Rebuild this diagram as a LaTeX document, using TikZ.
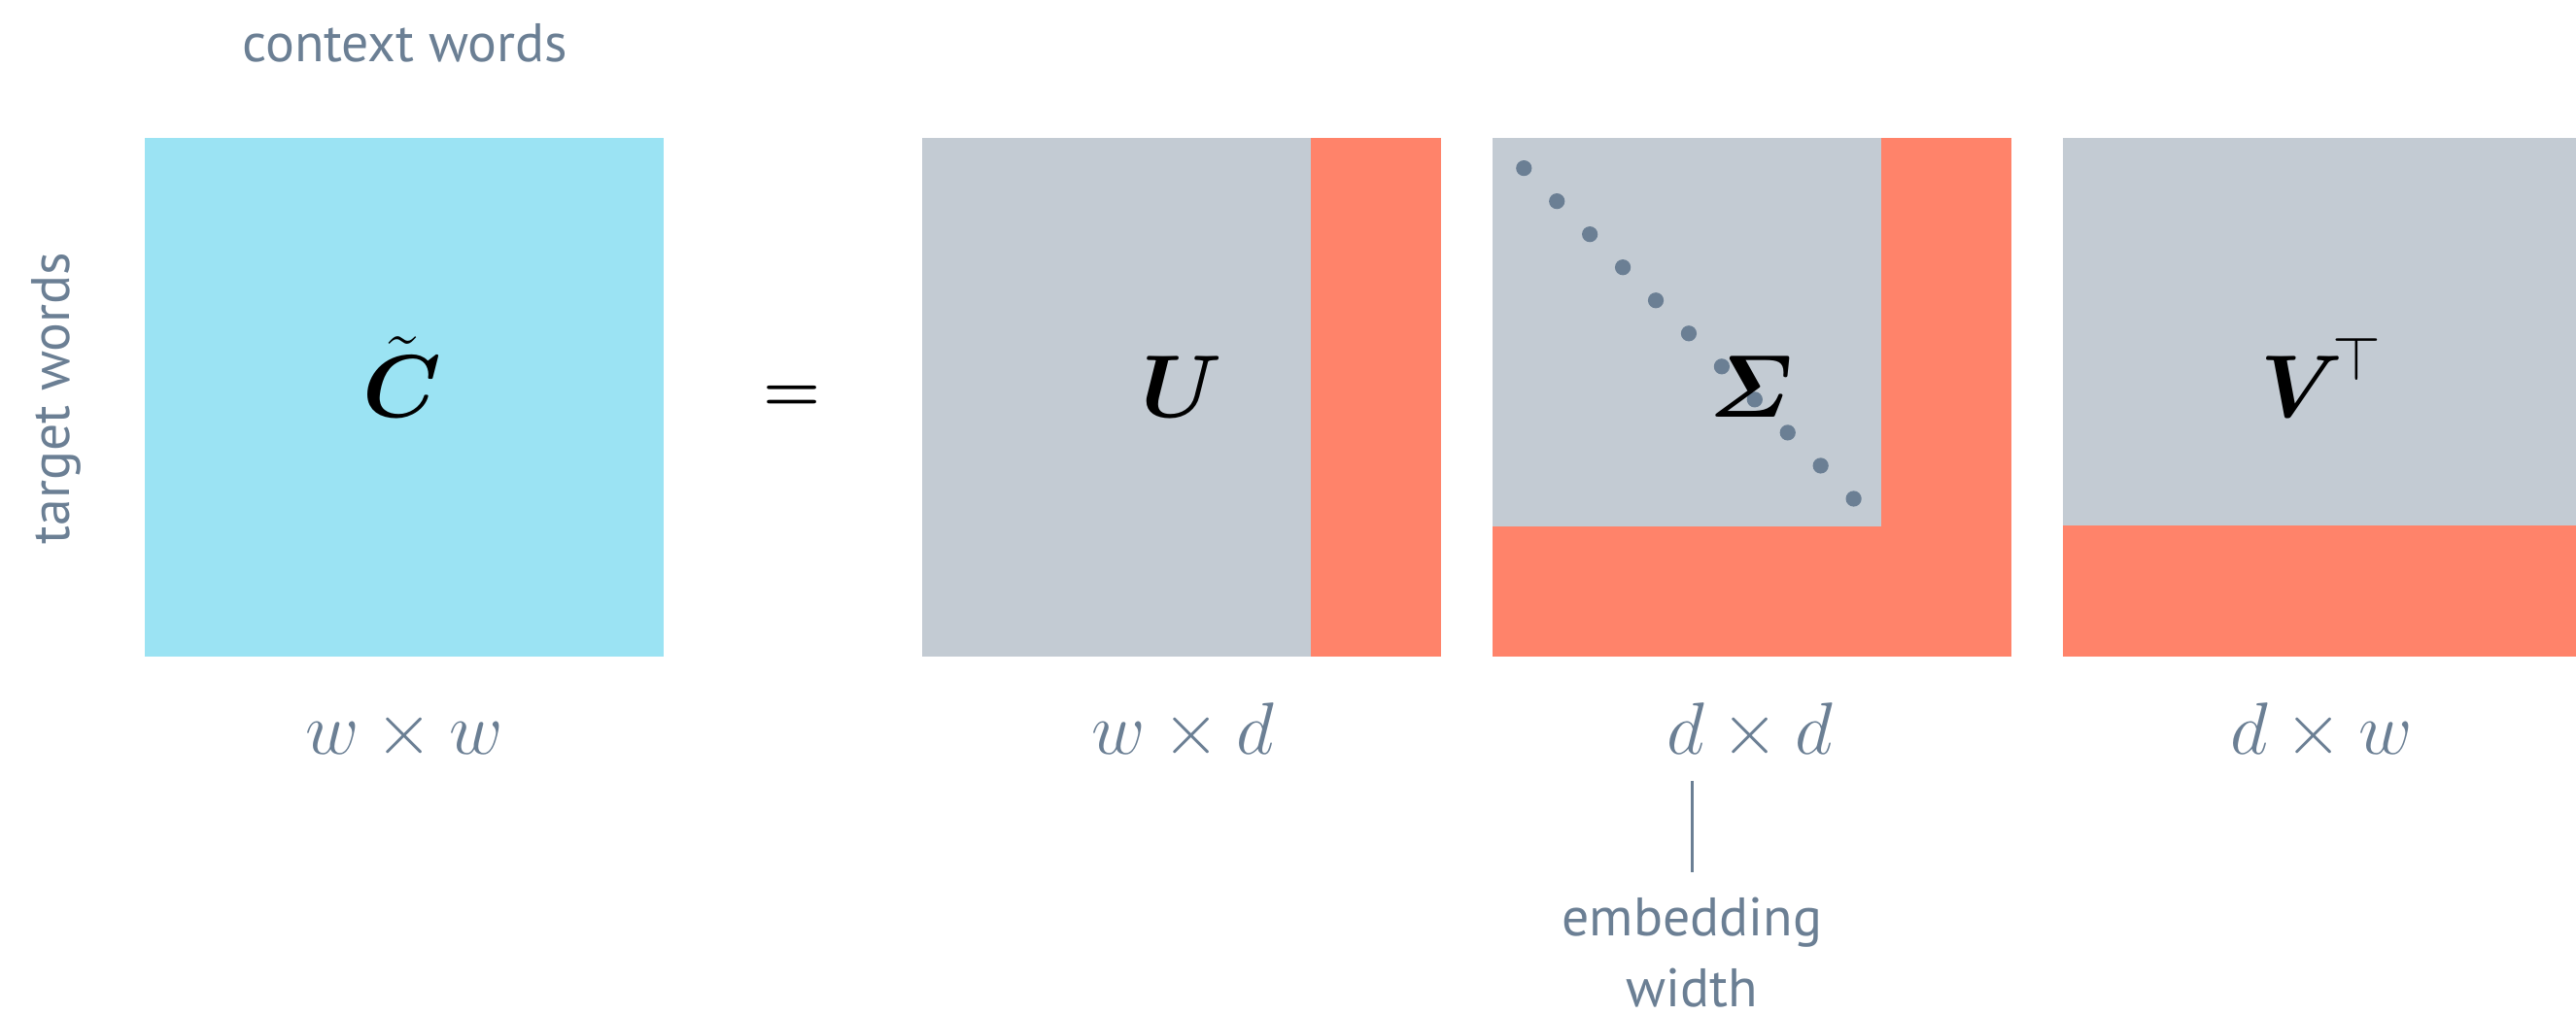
\RequirePackage{fix-cm}
\documentclass[tikz,border=0pt]{standalone}
\usepackage{amsmath}
\usepackage{fontspec}
\newfontfamily\labfont{PT Sans}
\usetikzlibrary{calc}
\definecolor{cyanm}{HTML}{9BE3F3}
\definecolor{graym}{HTML}{C3CBD3}
\definecolor{redm}{HTML}{FF836A}
\definecolor{slate}{HTML}{6B7F94}
\tikzset{
  mat/.style={rectangle, inner sep=0pt, outer sep=0pt, minimum width=315.6bp, minimum height=315.6bp, fill=graym},
  sym/.style={inner sep=0pt, anchor=base, text=black, font=\fontsize{54bp}{60bp}\selectfont},
  dim/.style={inner sep=0pt, anchor=base, text=slate, font=\fontsize{45bp}{50bp}\selectfont},
  word/.style={inner sep=0pt, anchor=base, text=slate, font=\labfont\fontsize{33bp}{40bp}\selectfont},
  conn/.style={draw=slate, line width=2bp},
}
\begin{document}
\begin{tikzpicture}[x=1bp,y=-1bp]
\useasboundingbox (0,0) rectangle (1568,618);
% matrices
\node[mat, fill=cyanm] (C) at (246,241.9) {};
\node[mat] (U) at (719.2,241.9) {};
\node[mat] (S) at (1066.5,241.9) {};
\node[mat] (V) at (1413.5,241.9) {};
% truncated (red) parts
\fill[redm] ($(U.north east)+(-79.2,0)$) rectangle (U.south east);
\fill[redm] ($(S.north east)+(-79.2,0)$) rectangle (S.south east);
\fill[redm] (S.south west) rectangle ($(S.south east)+(0,-79)$);
\fill[redm] (V.south west) rectangle ($(V.south east)+(0,-79.6)$);
% diagonal dots
\foreach \i in {0,...,10}
  \fill[slate] (927.6+20.07*\i, 102.4+20.13*\i) circle[radius=4.8bp];
% symbols
\node[sym] (Cl) at (245,254) {$\tilde{\boldsymbol{C}}$};
\node[sym] (Ul) at (719.5,254) {$\boldsymbol{U}$};
\node[sym] (Sl) at (1066,254) {$\boldsymbol{\varSigma}$};
\node[sym] (Vl) at (1413,254) {$\boldsymbol{V}^{\!\top}$};
\node[sym, font=\fontsize{40bp}{44bp}\selectfont] (eq) at (482,250.5) {$\boldsymbol{=}$};
% dimension labels
\node[dim] (dC) at (246,459.5) {$w\times w$};
\node[dim] (dU) at (720,459.5) {$w\times d$};
\node[dim] (dS) at (1065,459.5) {$d\times d$};
\node[dim] (dV) at (1413,459.5) {$d\times w$};
% words
\node[word] (ctx) at (246.5,37.5) {context words};
\node[word, rotate=90] (tgt) at (42.5,242.5) {target words};
\node[word] (emb1) at (1030,569.7) {embedding};
\node[word, text depth=0pt] (emb2) at (1030,613) {width};
% connector
\coordinate (lt) at (emb1.north |- dS.south);
\draw[conn, shorten <=12bp, shorten >=15bp] (lt) -- (emb1.north);
\end{tikzpicture}
\end{document}
